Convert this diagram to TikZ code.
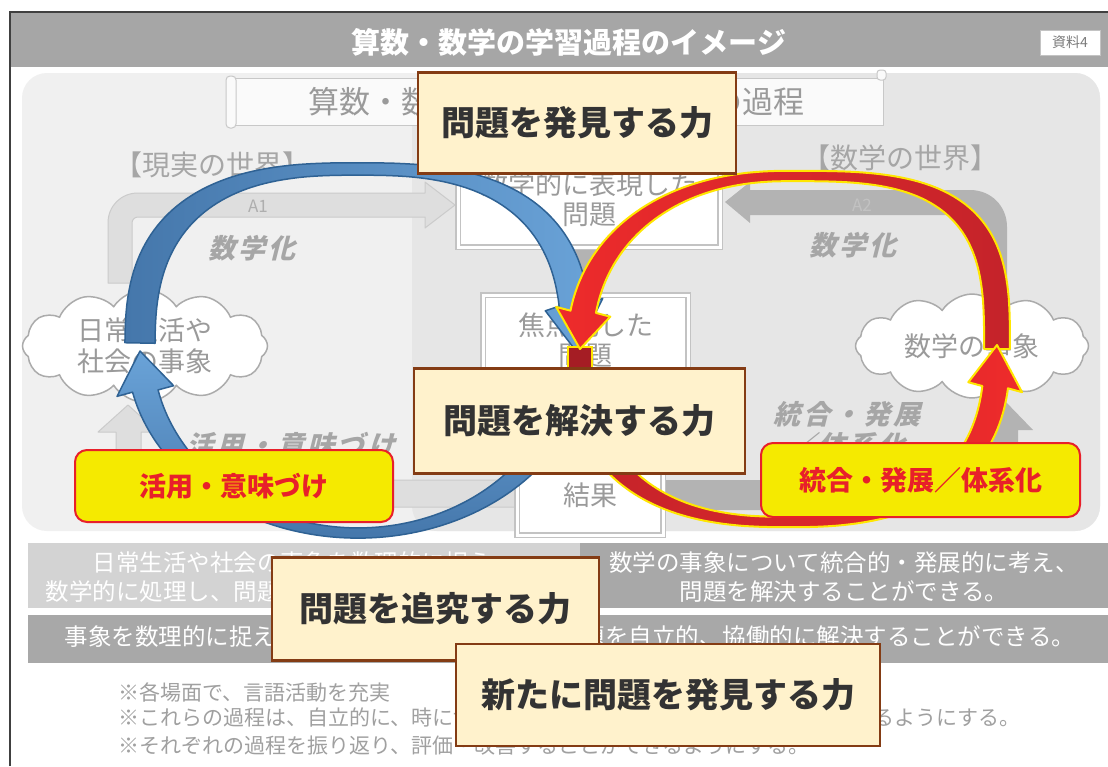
\documentclass[tikz,border=0pt]{standalone}
\usepackage{fontspec}
\setmainfont{Noto Sans CJK JP}
\newfontfamily\jpsl{Noto Sans CJK JP}[FakeSlant=0.25,LetterSpace=12]
\usetikzlibrary{shapes.symbols}
\definecolor{framec}{HTML}{404040}
\definecolor{titlegray}{HTML}{A6A6A6}
\definecolor{panelL}{HTML}{F0F0F0}
\definecolor{panelR}{HTML}{E6E6E6}
\definecolor{scrollfill}{HTML}{FAFAFA}
\definecolor{scrollline}{HTML}{C8C8C8}
\definecolor{boxline}{HTML}{C3C3C3}
\definecolor{boxtext}{HTML}{9A9A9A}
\definecolor{cloudline}{HTML}{ABABAB}
\definecolor{aonefill}{HTML}{DEDEDE}
\definecolor{aoneline}{HTML}{CBCBCB}
\definecolor{atwofill}{HTML}{B3B3B3}
\definecolor{slantgray}{HTML}{A6A6A6}
\definecolor{rowL}{HTML}{D3D3D3}
\definecolor{rowD}{HTML}{A8A8A8}
\definecolor{notegray}{HTML}{A0A0A0}
\definecolor{creamfill}{HTML}{FFF2CC}
\definecolor{creamline}{HTML}{843C14}
\definecolor{creamtext}{HTML}{333333}
\definecolor{labyellow}{HTML}{F5EA00}
\definecolor{labred}{HTML}{E8202A}
\definecolor{yellowline}{HTML}{FFE600}
\definecolor{redlight}{HTML}{EE2B2B}
\definecolor{reddark}{HTML}{C4232A}
\definecolor{redsq}{HTML}{A51D24}
\definecolor{bluelight}{HTML}{6AA3D8}
\definecolor{bluedark}{HTML}{4577AB}
\definecolor{blueline}{HTML}{2F6294}
% [style]{kx}{ky}{khead}{start angle}{head base angle}{tip angle}
\newcommand\ringarrow[7][]{%
  \filldraw[#1] plot[domain=#5:#6,samples=90,variable=\t]
    ({ex(\t,1+#2)},{ey(\t,1+#3)})
  -- ({ex(#6,1+#4)},{ey(#6,1+#4)})
  -- ({ex(#7,1)},{ey(#7,1)})
  -- ({ex(#6,1-#4)},{ey(#6,1-#4)})
  -- plot[domain=#6:#5,samples=90,variable=\t]
    ({ex(\t,1-#2)},{ey(\t,1-#3)})
  -- cycle;}
\begin{document}
\begin{tikzpicture}[x=1pt,y=-1pt,
  declare function={
    sexp(\t)=2/((cos(\t)>0) ? \enr : \enl);
    ex(\t,\s)=\ecx+\s*\erx*sign(cos(\t))*(abs(cos(\t))+0.0001)^(sexp(\t));
    ey(\t,\s)=\ecy+\s*\ery*sign(sin(\t))*(abs(sin(\t))+0.0001)^(sexp(\t));
  },
  every node/.style={inner sep=0pt, outer sep=0pt},
  cream/.style={draw=creamline, line width=2.4pt, fill=creamfill, text=creamtext, font=\bfseries\fontsize{34}{40}\selectfont},
  ylabel/.style={draw=labred, line width=2pt, fill=labyellow, rounded corners=12pt, text=labred, font=\bfseries\fontsize{27}{32}\selectfont},
  wbox/.style={draw=boxline, line width=1.2pt, double=white, double distance=3pt, fill=white, text=boxtext, align=center, font=\fontsize{27}{30}\selectfont},
  worldtext/.style={text=slantgray, font=\fontsize{28}{32}\selectfont},
  slanttext/.style={text=slantgray, font=\jpsl\bfseries\fontsize{27}{31}\selectfont, align=center},
  cloudnode/.style={cloud, cloud puffs=12, cloud puff arc=115, draw=cloudline, line width=1.5pt, fill=white, text=boxtext, align=center, font=\fontsize{27}{31}\selectfont},
  rowtext/.style={text=white, align=center, font=\fontsize{23.5}{29}\selectfont},
  notetext/.style={text=notegray, anchor=west, font=\fontsize{21}{25}\selectfont},
  bluearrow/.style={draw=blueline, line width=1.5pt, line join=round},
  redarrow/.style={draw=yellowline, line width=2pt, line join=round}
]
\useasboundingbox (0,0) rectangle (1108,766);
\fill[white] (0,0) rectangle (1108,766);
% frame and title
\fill[titlegray] (11,13) rectangle (1108,67);
\draw[framec, line width=1.2pt] (10,766) -- (10,12) -- (1108,12);
\node[text=white, font=\bfseries\fontsize{29}{33}\selectfont] (title) at (569,42) {算数・数学の学習過程のイメージ};
\node[fill=white, draw=boxline, line width=0.6pt, minimum width=60pt, minimum height=25pt, text=boxtext!80!black, font=\fontsize{14}{16}\selectfont] (shiryo) at (1070,42.5) {資料4};
% panel
\fill[panelL, rounded corners=25pt] (22,73) rectangle (1100,531);
\fill[panelR, rounded corners=25pt] (412,73) rectangle (1100,531);
% scroll banner
\filldraw[fill=scrollfill, draw=scrollline, line width=1pt] (232,78) rectangle (883,125);
\filldraw[fill=scrollfill, draw=scrollline, line width=1pt, rounded corners=4pt] (226,76) rectangle (236,128);
\filldraw[fill=scrollfill, draw=scrollline, line width=1pt, rounded corners=3pt] (877,70) rectangle (886,80);
\node[text=boxtext, font=\fontsize{31}{35}\selectfont] (scroll) at (556,102) {算数・数学の問題発見・解決の過程};
\node[worldtext] (realw) at (212,165) {【現実の世界】};
\node[worldtext] (mathw) at (900,158) {【数学の世界】};
% gray arrows
\filldraw[fill=aonefill, draw=aoneline, line width=1pt, line join=round]
  (108,283) -- (108,223) .. controls (108,206) and (121,193) .. (138,193) -- (425,193) -- (425,182) -- (455,205) -- (425,228) -- (425,217) -- (138,217) .. controls (134.7,217) and (132,219.7) .. (132,223) -- (132,283) -- cycle;
\fill[atwofill]
  (982,283) -- (982,240) .. controls (982,226) and (975,215) .. (960,215) -- (750,215) -- (750,223) -- (725,202) -- (750,182) -- (750,190) -- (970,190) .. controls (991,190) and (1007,206) .. (1007,227) -- (1007,283) -- cycle;
\filldraw[fill=aonefill, draw=aoneline, line width=1pt, line join=round]
  (517,480) -- (150,480) .. controls (145,480) and (141,476) .. (141,471) -- (141,432) -- (158,432) -- (128,405) -- (98,432) -- (116,432) -- (116,482) .. controls (116,496) and (128,507) .. (143,507) -- (517,507) -- cycle;
\fill[atwofill]
  (663,480) -- (982,480) .. controls (987,480) and (990,477) .. (990,472) -- (990,430) -- (975,430) -- (1004,400) -- (1033,430) -- (1018,430) -- (1018,482) .. controls (1018,498) and (1006,510) .. (990,510) -- (663,510) -- cycle;
\fill[atwofill] (572,248) rectangle (603,296);
\node[text=boxtext!80, font=\fontsize{17}{20}\selectfont] (aone) at (258,206) {A1};
\node[text=boxtext!60, font=\fontsize{17}{20}\selectfont] (atwo) at (862,205) {A2};
\node[slanttext] (mkaL) at (252,248) {数学化};
\node[slanttext] (mkaR) at (853,245) {数学化};
\node[slanttext] (katsuyoG) at (291,445) {活用・意味づけ};
\node[slanttext] (togoG) at (847,430) {統合・発展\\／体系化};
% white boxes
\node[wbox, minimum width=262pt, minimum height=96pt] (hyogen) at (589,199) {数学的に表現した\\問題};
\node[wbox, minimum width=205pt, minimum height=90pt] (shoten) at (585.5,340) {焦点化した\\問題};
\node[wbox, minimum width=146pt, minimum height=80pt] (kekka) at (590,495) {結果};
% clouds
\node[cloudnode, aspect=2.15, minimum width=245pt, minimum height=113pt] (cloudL) at (145,346) {日常生活や\\社会の事象};
\node[cloudnode, aspect=2.4, minimum width=233pt, minimum height=97pt] (cloudR) at (972,346) {数学の事象};
% bottom rows
\fill[rowL] (28,543) rectangle (580,608);
\fill[rowD] (580,543) rectangle (1108,608);
\fill[rowD] (28,615) rectangle (1108,663);
\node[rowtext] (rowA) at (304,577) {日常生活や社会の事象を数理的に捉え、\\数学的に処理し、問題を解決することができる。};
\node[rowtext] (rowB) at (844,577) {数学の事象について統合的・発展的に考え、\\問題を解決することができる。};
\node[rowtext] (rowC) at (570,637) {事象を数理的に捉え、数学の問題を見いだし、問題を自立的、協働的に解決することができる。};
\node[notetext] (note1) at (118,692) {※各場面で、言語活動を充実};
\node[notetext] (note2) at (118,718) {※これらの過程は、自立的に、時に協働的に行い、それぞれに主体的に取り組めるようにする。};
\node[notetext] (note3) at (118,745) {※それぞれの過程を振り返り、評価・改善することができるようにする。};
% blue cycle
\def\ecx{358}\def\ecy{351}\def\erx{218}\def\ery{182}
\def\enl{2.7}\def\enr{2.7}
\ringarrow[bluearrow, left color=bluedark, right color=bluelight]{0.069}{0.034}{0.133}{180.84}{351}{360}
\def\enl{2}\def\enr{2}
\ringarrow[bluearrow, top color=bluelight, bottom color=bluedark]{0.06}{0.028}{0.133}{35}{167.3}{180}
\filldraw[fill=redsq, draw=yellowline, line width=1.5pt] (568,347) rectangle (592,380);
% red cycle
\def\ecx{788.5}\def\ecy{349}\def\erx{208.5}\def\ery{173}
\def\enl{2.2}\def\enr{3.2}
\ringarrow[redarrow, left color=redlight, right color=reddark]{0.062}{0.03}{0.132}{0}{-169.4}{-180}
\def\enl{2.5}\def\enr{2.5}
\ringarrow[redarrow, left color=reddark, right color=redlight]{0.062}{0.03}{0.13}{150}{8.6}{-0.5}
% yellow labels
\node[ylabel, minimum width=318pt, minimum height=72pt] (katsuyo) at (234,486) {活用・意味づけ};
\node[ylabel, minimum width=319pt, minimum height=74pt] (togo) at (920.5,480) {統合・発展／体系化};
% cream boxes
\node[cream, minimum width=318pt, minimum height=101pt] (hakken) at (577,123) {問題を発見する力};
\node[cream, minimum width=331pt, minimum height=105pt] (kaiketsu) at (579.5,421) {問題を解決する力};
\node[cream, minimum width=327pt, minimum height=103pt] (tsuikyu) at (435.5,609) {問題を追究する力};
\node[cream, minimum width=424pt, minimum height=102pt] (arata) at (668,695) {新たに問題を発見する力};
\end{tikzpicture}
\end{document}
